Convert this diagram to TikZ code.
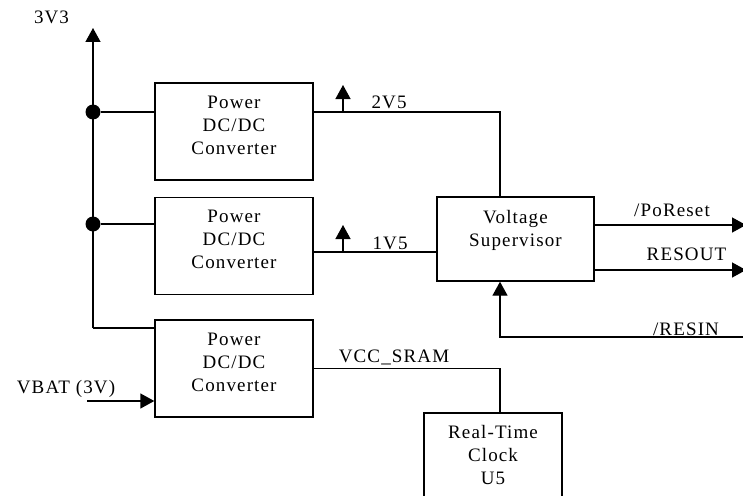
\documentclass[tikz,border=0pt]{standalone}
\usepackage{fontspec}
\setmainfont{Liberation Serif}[LetterSpace=6]
\usetikzlibrary{positioning,arrows.meta}
\tikzset{block/.style={draw,line width=1.4pt,minimum width=158pt,minimum height=97pt,inner sep=0pt}}
\tikzset{blocktext/.style={anchor=north,align=center,inner sep=0pt,font=\fontsize{19pt}{23pt}\selectfont}}
\tikzset{sig/.style={anchor=base,inner sep=0pt,font=\fontsize{19pt}{23pt}\selectfont}}
\tikzset{wire/.style={line width=1.4pt}}
\tikzset{arrowline/.style={wire,-{Triangle[length=14pt,width=15pt]}}}
\tikzset{junction/.style={circle,fill,inner sep=0pt,minimum size=15pt}}

\begin{document}
\begin{tikzpicture}[x=1pt,y=-1pt,node distance=16pt]
\clip (0,0) rectangle (743,495);
\node[block] (conv1) at (234,131.5) {};
\node[block] (conv2) [below=16pt of conv1] {};
\node[block] (conv3) [below=24pt of conv2] {};
\node[block,minimum width=157pt,minimum height=84pt] (sup) at (515.5,239) {};
\node[block,minimum width=138pt,minimum height=84pt] (rtc) at (493,455) {};

\node[blocktext] (conv1txt) at ([yshift=-13.5pt]conv1.north) {Power\\DC/DC\\Converter};
\node[blocktext] (conv2txt) at ([yshift=-13.5pt]conv2.north) {Power\\DC/DC\\Converter};
\node[blocktext] (conv3txt) at ([yshift=-13.5pt]conv3.north) {Power\\DC/DC\\Converter};
\node[blocktext] (suptxt) at ([yshift=-14pt]sup.north) {Voltage\\Supervisor};
\node[blocktext] (rtctxt) at ([yshift=-13pt]rtc.north) {Real-Time\\Clock\\U5};

\node[sig] (v33) at (51.5,24) {3V3};
\node[sig] (v25txt) at (389,108) {2V5};
\node[sig] (v15txt) at (390,249) {1V5};
\node[sig] (portxt) at (672,216) {/PoReset};
\node[sig] (rsotxt) at (686.5,260) {RESOUT};
\node[sig] (rsitxt) at (686,335) {/RESIN};
\node[sig] (sramtxt) at (394,362) {VCC\_SRAM};
\node[sig] (vbattxt) at (66,393.5) {VBAT (3V)};

\coordinate (railtop) at (93,28);
\coordinate (c3) at (93,328);
\node[junction] (j1) at (93,112) {};
\node[junction] (j2) at (93,224) {};
\draw[arrowline] (c3) -- (railtop);
\draw[wire] (conv3.west |- c3) -- (c3);
\draw[wire] (j1) -- (j1 -| conv1.west);
\draw[wire] (j2) -- (j2 -| conv2.west);

\coordinate (v25) at (500,112);
\coordinate (t25) at (343,85);
\draw[wire] (v25 -| conv1.east) -| (sup.north -| v25);
\draw[arrowline] (t25 |- v25) -- (t25);

\coordinate (v15) at (343,252);
\coordinate (t15) at (343,225);
\draw[wire] (v15 -| conv2.east) -- (v15 -| sup.west);
\draw[arrowline] (v15) -- (t15);

\coordinate (por) at (746,225);
\coordinate (rso) at (746,270);
\coordinate (rsi) at (746,337);
\draw[arrowline] (por -| sup.east) -- (por);
\draw[arrowline] (rso -| sup.east) -- (rso);
\draw[arrowline] (rsi) -| (sup.south -| v25);

\draw[wire] (conv3.east) -| (rtc.north -| v25);

\coordinate (vbat) at (87,401);
\draw[arrowline] (vbat) -- (vbat -| conv3.west);
\end{tikzpicture}
\end{document}
